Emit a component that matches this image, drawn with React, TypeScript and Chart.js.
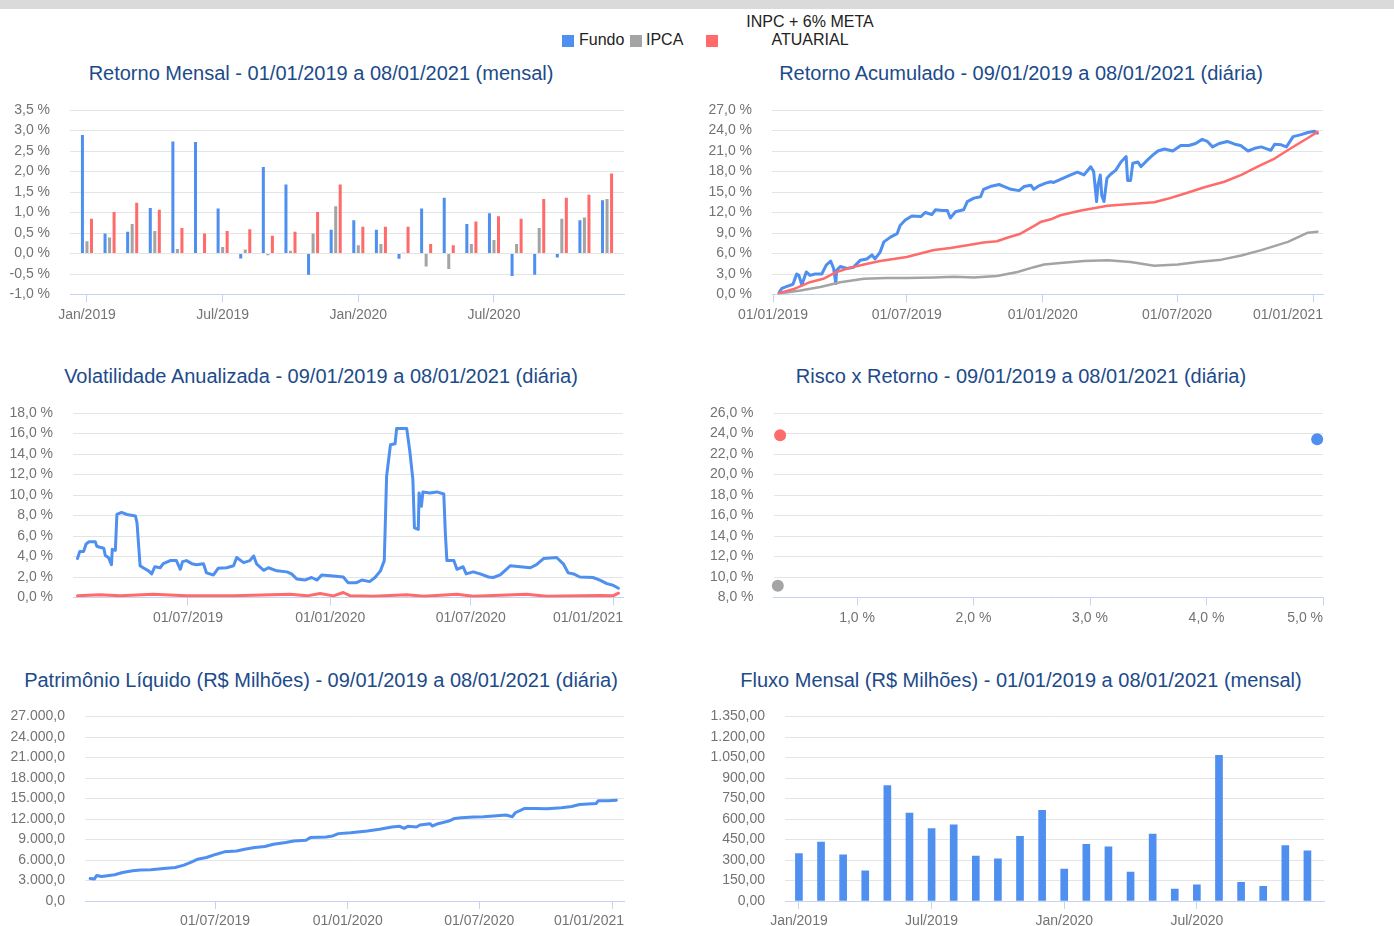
import React, { useEffect, useRef } from 'react';
import { Chart, registerables } from 'chart.js';

Chart.register(...registerables);

const FONT = "'Liberation Sans', Arial, Helvetica, sans-serif";
Chart.defaults.font.family = FONT;

const COR_FUNDO = '#4e8ff0';
const COR_IPCA = '#a4a4a4';
const COR_META = '#ff6b6b';
const COR_GRADE = '#e4e4e4';
const COR_EIXO = '#c4d4f2';
const COR_ROTULO = '#737373';
const COR_TITULO = '#1c4b8a';
const TRANSP = 'rgba(0,0,0,0)';

// ---------- tick labels ----------
const meses = [
  'Jan/2019', 'Fev/2019', 'Mar/2019', 'Abr/2019', 'Mai/2019', 'Jun/2019',
  'Jul/2019', 'Ago/2019', 'Set/2019', 'Out/2019', 'Nov/2019', 'Dez/2019',
  'Jan/2020', 'Fev/2020', 'Mar/2020', 'Abr/2020', 'Mai/2020', 'Jun/2020',
  'Jul/2020', 'Ago/2020', 'Set/2020', 'Out/2020', 'Nov/2020', 'Dez/2020',
];
const mesesRotulados = [0, 6, 12, 18];
const datasRotulos = ['01/01/2019', '01/07/2019', '01/01/2020', '01/07/2020', '01/01/2021'];
const diasRotulos = [0, 181, 365, 547, 731]; // dias desde 01/01/2019
const riscoRotulos = [1, 2, 3, 4, 5];

// ---------- Retorno Mensal (%) ----------
const retornoMensalFundo = [2.89, 0.49, 0.53, 1.11, 2.73, 2.72, 1.10, -0.12, 2.11, 1.68, -0.52, 0.58,
  0.81, 0.58, -0.13, 1.10, 1.36, 0.72, 0.98, -0.55, -0.52, -0.10, 0.81, 1.30];
const retornoMensalIPCA = [0.30, 0.39, 0.72, 0.55, 0.11, 0.01, 0.16, 0.10, -0.04, 0.07, 0.49, 1.15,
  0.20, 0.23, 0.02, -0.32, -0.38, 0.23, 0.33, 0.23, 0.62, 0.85, 0.88, 1.33];
const retornoMensalMeta = [0.85, 1.01, 1.24, 1.07, 0.62, 0.49, 0.55, 0.59, 0.43, 0.53, 1.01, 1.68,
  0.65, 0.65, 0.65, 0.23, 0.20, 0.78, 0.91, 0.85, 1.33, 1.36, 1.43, 1.95];

// ---------- Retorno Acumulado (%) : [dia, valor] ----------
const acumFundo: [number, number][] = [
  [8, 0.25], [12, 0.9], [19, 1.2], [27, 1.5], [32, 3.0], [35, 2.8], [39, 1.4], [45, 3.3], [50, 2.8],
  [57, 3.0], [66, 3.0], [72, 4.3], [78, 4.9], [82, 3.8], [85, 1.6], [86, 3.5], [91, 4.1], [100, 3.8],
  [109, 4.0], [118, 5.0], [127, 5.2], [134, 5.8], [138, 5.2], [145, 6.2], [150, 7.7], [159, 8.4],
  [168, 8.9], [172, 10.1], [179, 10.9], [188, 11.5], [200, 11.4], [206, 12.0], [215, 11.7], [220, 12.4],
  [229, 12.3], [236, 12.3], [240, 11.2], [247, 12.1], [258, 12.4], [263, 13.6], [272, 14.1], [281, 14.3],
  [285, 15.4], [294, 15.8], [306, 16.1], [313, 15.8], [322, 15.4], [333, 15.2], [340, 15.8], [349, 16.0],
  [353, 15.4], [360, 15.9], [369, 16.3], [376, 16.5], [380, 16.4], [403, 17.5], [412, 17.9], [421, 17.5],
  [430, 18.7], [434, 18.0], [438, 13.6], [440, 16.1], [443, 17.5], [445, 14.5], [448, 13.6], [452, 17.0],
  [457, 17.6], [464, 18.2], [471, 19.4], [478, 20.2], [480, 16.7], [484, 16.7], [487, 19.2], [494, 19.4],
  [498, 18.7], [507, 19.7], [514, 20.4], [521, 21.0], [530, 21.3], [541, 21.0], [552, 21.8], [563, 21.8],
  [572, 22.1], [581, 22.7], [588, 22.4], [595, 21.6], [604, 22.1], [615, 22.4], [625, 22.0], [633, 21.8],
  [643, 21.0], [652, 21.4], [661, 21.6], [674, 21.1], [679, 22.0], [688, 21.9], [695, 21.6], [704, 23.1],
  [715, 23.4], [724, 23.7], [733, 23.9], [737, 23.6],
];
const acumIPCA: [number, number][] = [
  [8, 0.15], [37, 0.6], [64, 1.1], [91, 1.8], [123, 2.3], [154, 2.4], [181, 2.4], [218, 2.5], [245, 2.6],
  [272, 2.5], [303, 2.7], [331, 3.3], [353, 4.0], [367, 4.4], [389, 4.6], [421, 4.9], [453, 5.0],
  [484, 4.75], [516, 4.2], [548, 4.4], [575, 4.75], [607, 5.1], [634, 5.7], [661, 6.5], [697, 7.7],
  [724, 9.05], [737, 9.2],
];
const acumMeta: [number, number][] = [
  [8, 0.2], [28, 0.8], [50, 1.8], [68, 2.3], [86, 3.3], [104, 3.9], [123, 4.4], [145, 4.9], [181, 5.5],
  [218, 6.5], [240, 6.8], [263, 7.2], [285, 7.6], [303, 7.8], [317, 8.3], [335, 8.9], [353, 10.0],
  [362, 10.6], [376, 11.0], [389, 11.6], [417, 12.3], [453, 13.0], [516, 13.5], [534, 14.0], [561, 14.9],
  [584, 15.7], [611, 16.5], [634, 17.5], [656, 18.7], [679, 19.9], [701, 21.4], [724, 22.9], [737, 23.8],
];

// ---------- Volatilidade Anualizada (%) ----------
const volFundo: [number, number][] = [
  [38, 3.8], [41, 4.5], [46, 4.5], [49, 5.2], [53, 5.45], [61, 5.45], [63, 5.0], [67, 4.9], [72, 4.8],
  [74, 4.1], [78, 3.9], [82, 3.2], [83, 4.7], [87, 4.6], [89, 8.1], [95, 8.3], [102, 8.1], [113, 7.95],
  [115, 7.3], [119, 3.1], [123, 2.9], [130, 2.6], [134, 2.3], [138, 3.0], [145, 2.9], [149, 3.3],
  [158, 3.6], [166, 3.6], [171, 2.75], [174, 3.5], [179, 3.6], [186, 3.3], [192, 3.2], [201, 3.3],
  [205, 2.4], [214, 2.2], [220, 2.85], [231, 2.9], [240, 3.1], [244, 3.9], [253, 3.4], [261, 3.6],
  [266, 4.05], [270, 3.25], [279, 2.65], [285, 2.9], [296, 2.6], [309, 2.5], [315, 2.3], [322, 1.8],
  [332, 1.7], [341, 1.95], [348, 1.7], [354, 2.2], [369, 2.1], [382, 2.0], [388, 1.45], [399, 1.45],
  [406, 1.7], [416, 1.55], [423, 1.95], [430, 2.6], [435, 3.6], [438, 11.8], [443, 14.9], [449, 15.0],
  [451, 16.5], [464, 16.5], [468, 14.3], [472, 11.5], [474, 6.8], [479, 6.65], [480, 10.2], [483, 8.9],
  [485, 10.3], [494, 10.2], [503, 10.3], [512, 10.1], [514, 6.3], [516, 3.6], [525, 3.6], [529, 2.75],
  [537, 3.0], [541, 2.3], [550, 2.5], [559, 2.3], [570, 2.0], [576, 1.95], [585, 2.2], [593, 2.75],
  [598, 3.1], [611, 3.0], [624, 2.9], [632, 3.2], [641, 3.8], [658, 3.9], [667, 3.25], [673, 2.4],
  [680, 2.3], [688, 2.0], [705, 1.95], [714, 1.7], [723, 1.35], [731, 1.2], [738, 0.9],
];
const volMeta: [number, number][] = [
  [38, 0.16], [67, 0.26], [93, 0.16], [136, 0.32], [179, 0.16], [240, 0.16], [313, 0.32], [335, 0.16],
  [352, 0.39], [369, 0.16], [382, 0.49], [391, 0.16], [421, 0.13], [464, 0.26], [486, 0.13], [529, 0.32],
  [550, 0.13], [619, 0.32], [645, 0.13], [714, 0.19], [731, 0.16], [738, 0.42],
];

// ---------- Risco x Retorno (%) ----------
const riscoFundo = [4.95, 23.44];
const riscoIPCA = [0.32, 9.14];
const riscoMeta = [0.34, 23.83];

// ---------- Patrimônio Líquido (R$ milhões) ----------
const patrimonio: [number, number][] = [
  [8, 3300], [14, 3205], [17, 3740], [24, 3590], [42, 3840], [53, 4180], [67, 4420], [78, 4520],
  [92, 4565], [110, 4760], [126, 4905], [138, 5245], [149, 5730], [157, 6120], [169, 6360], [183, 6850],
  [194, 7190], [211, 7330], [222, 7575], [236, 7820], [250, 7965], [262, 8305], [279, 8550], [290, 8790],
  [307, 8885], [313, 9275], [335, 9370], [344, 9520], [352, 9860], [369, 10000], [392, 10245],
  [409, 10490], [426, 10830], [437, 10925], [443, 10635], [448, 10925], [460, 10830], [465, 11120],
  [479, 11315], [482, 10975], [490, 11315], [505, 11700], [513, 12090], [522, 12190], [539, 12285],
  [553, 12335], [567, 12430], [584, 12575], [593, 12335], [597, 12915], [610, 13550], [624, 13550],
  [641, 13500], [661, 13645], [675, 13840], [686, 14130], [709, 14275], [712, 14665], [726, 14665],
  [737, 14760],
];

// ---------- Fluxo Mensal (R$ milhões) ----------
const fluxoMensal = [347, 432, 338, 221, 845, 643, 529, 558, 328, 308, 473, 663,
  233, 415, 396, 211, 490, 87, 119, 1066, 136, 107, 405, 367];

// ---------- helpers ----------
function fmtNum(v: number, dec: number): string {
  const r = Math.round(v * Math.pow(10, dec)) / Math.pow(10, dec);
  const s = Math.abs(r).toFixed(dec);
  const [i, f] = s.split('.');
  const ii = i.replace(/\B(?=(\d{3})+(?!\d))/g, '.');
  return (r < 0 ? '-' : '') + ii + (f ? ',' + f : '');
}
const pct = (v: number) => fmtNum(v, 1) + ' %';

type Area = { l: number; t: number; r: number; b: number };
type Box = { left: number; top: number; width: number; height: number; area: Area };
type Tk = { value: number; label: string; mark: boolean };

const tickFont = { size: 14, family: FONT };

function baseOptions(box: Box) {
  return {
    responsive: false,
    animation: false as const,
    events: [] as any[],
    layout: {
      padding: {
        left: 0,
        top: box.area.t - box.top,
        right: box.left + box.width - box.area.r,
        bottom: 0,
      },
    },
    plugins: { legend: { display: false }, tooltip: { enabled: false }, title: { display: false } },
  };
}

function yAxis(box: Box, min: number, max: number, step: number, fmt: (v: number) => string) {
  return {
    type: 'linear',
    min, max,
    ticks: { stepSize: step, color: COR_ROTULO, font: tickFont, padding: 20, callback: (v: any) => fmt(Number(v)) },
    grid: {
      color: (c: any) => (c.tick && Math.abs(c.tick.value - min) < 1e-9 ? TRANSP : COR_GRADE),
      drawTicks: false,
      lineWidth: 1,
    },
    border: { display: false },
    afterFit: (s: any) => { s.width = box.area.l - box.left; s.paddingTop = 0; s.paddingBottom = 0; },
  };
}

function xAxis(box: Box, min: number, max: number, tks: Tk[], align: string) {
  return {
    type: 'linear',
    min, max,
    offset: false,
    bounds: 'data',
    afterBuildTicks: (s: any) => { s.ticks = tks.map((t) => ({ value: t.value })); },
    ticks: {
      autoSkip: false, maxRotation: 0, minRotation: 0, align,
      padding: 4, color: COR_ROTULO, font: tickFont,
      callback: (_v: any, i: number) => (tks[i] ? tks[i].label : ''),
    },
    grid: {
      offset: false,
      drawOnChartArea: false,
      drawTicks: true,
      tickLength: 8,
      lineWidth: 1,
      color: (c: any) => (tks[c.index] && tks[c.index].mark ? COR_EIXO : TRANSP),
    },
    border: { display: true, color: COR_EIXO, width: 1 },
    afterFit: (s: any) => {
      s.height = box.top + box.height - box.area.b;
      s.paddingLeft = 0; s.paddingRight = 0;
    },
  };
}

function ticksDatas(min: number, max: number, first: number): Tk[] {
  const t: Tk[] = [{ value: min, label: '', mark: false }];
  for (let i = first; i < diasRotulos.length; i++) {
    const last = i === diasRotulos.length - 1;
    t.push({ value: diasRotulos[i], label: last ? '' : datasRotulos[i], mark: true });
  }
  t.push({ value: max, label: datasRotulos[datasRotulos.length - 1], mark: false });
  return t;
}

const ticksMeses = (): Tk[] => mesesRotulados.map((i) => ({ value: i, label: meses[i], mark: true }));
const pts = (arr: [number, number][]) => arr.map(([x, y]) => ({ x, y }));
const lineDs = (label: string, data: [number, number][], color: string, width: number, order: number) => ({
  label, data: pts(data), borderColor: color, backgroundColor: color, borderWidth: width,
  pointRadius: 0, tension: 0, fill: false, order, borderJoinStyle: 'round', borderCapStyle: 'round',
});

// ---------- layout boxes ----------
const B1: Box = { left: 0, top: 90, width: 642, height: 240, area: { l: 70, t: 110, r: 624, b: 294.5 } };
const B2: Box = { left: 700, top: 90, width: 642, height: 240, area: { l: 772, t: 110, r: 1323, b: 294.5 } };
const B3: Box = { left: 0, top: 393, width: 642, height: 240, area: { l: 73, t: 413, r: 623, b: 597.5 } };
const B4: Box = { left: 700, top: 393, width: 642, height: 240, area: { l: 773.5, t: 413, r: 1323, b: 597.5 } };
const B5: Box = { left: 0, top: 697, width: 642, height: 229, area: { l: 85, t: 716.5, r: 624, b: 901 } };
const B6: Box = { left: 700, top: 697, width: 642, height: 229, area: { l: 785, t: 716.5, r: 1324, b: 901 } };

function cfgRetornoMensal() {
  const box = B1;
  return {
    type: 'bar',
    data: {
      datasets: [
        { label: 'Fundo', data: retornoMensalFundo.map((y, x) => ({ x, y })), backgroundColor: COR_FUNDO },
        { label: 'IPCA', data: retornoMensalIPCA.map((y, x) => ({ x, y })), backgroundColor: COR_IPCA },
        { label: 'INPC + 6% META ATUARIAL', data: retornoMensalMeta.map((y, x) => ({ x, y })), backgroundColor: COR_META },
      ],
    },
    options: {
      ...baseOptions(box),
      datasets: { bar: { categoryPercentage: 0.6, barPercentage: 0.667, borderWidth: 0 } },
      scales: {
        x: xAxis(box, -0.75, 23.75, ticksMeses(), 'center'),
        y: yAxis(box, -1, 3.5, 0.5, pct),
      },
    },
  };
}

function cfgAcumulado() {
  const box = B2;
  return {
    type: 'line',
    data: {
      datasets: [
        lineDs('Fundo', acumFundo, COR_FUNDO, 3, 2),
        lineDs('IPCA', acumIPCA, COR_IPCA, 2.5, 1),
        lineDs('INPC + 6% META ATUARIAL', acumMeta, COR_META, 2.5, 0),
      ],
    },
    options: {
      ...baseOptions(box),
      scales: {
        x: xAxis(box, -1.4, 744.5, ticksDatas(-1.4, 744.5, 0), 'inner'),
        y: yAxis(box, 0, 27, 3, pct),
      },
    },
  };
}

function cfgVolatilidade() {
  const box = B3;
  return {
    type: 'line',
    data: {
      datasets: [
        lineDs('Fundo', volFundo, COR_FUNDO, 3, 1),
        lineDs('INPC + 6% META ATUARIAL', volMeta, COR_META, 3, 0),
      ],
    },
    options: {
      ...baseOptions(box),
      scales: {
        x: xAxis(box, 32.2, 743.9, ticksDatas(32.2, 743.9, 1), 'inner'),
        y: yAxis(box, 0, 18, 2, pct),
      },
    },
  };
}

function cfgRisco() {
  const box = B4;
  const tks: Tk[] = [{ value: 0.283, label: '', mark: false },
    ...riscoRotulos.map((v) => ({ value: v, label: pct(v), mark: true }))];
  const ds = (label: string, p: number[], color: string) => ({
    label, data: [{ x: p[0], y: p[1] }], backgroundColor: color, borderColor: color,
    pointRadius: 6, borderWidth: 0,
  });
  return {
    type: 'scatter',
    data: {
      datasets: [
        ds('Fundo', riscoFundo, COR_FUNDO),
        ds('IPCA', riscoIPCA, COR_IPCA),
        ds('INPC + 6% META ATUARIAL', riscoMeta, COR_META),
      ],
    },
    options: {
      ...baseOptions(box),
      clip: false,
      scales: {
        x: xAxis(box, 0.283, 5, tks, 'inner'),
        y: yAxis(box, 8, 26, 2, pct),
      },
    },
  };
}

function cfgPatrimonio() {
  const box = B5;
  return {
    type: 'line',
    data: { datasets: [lineDs('Fundo', patrimonio, COR_FUNDO, 3, 0)] },
    options: {
      ...baseOptions(box),
      scales: {
        x: xAxis(box, 0.9, 747.6, ticksDatas(0.9, 747.6, 1), 'inner'),
        y: yAxis(box, 0, 27000, 3000, (v) => fmtNum(v, 1)),
      },
    },
  };
}

function cfgFluxo() {
  const box = B6;
  return {
    type: 'bar',
    data: {
      datasets: [{ label: 'Fundo', data: fluxoMensal.map((y, x) => ({ x, y })), backgroundColor: COR_FUNDO, borderWidth: 0, barThickness: 7 }],
    },
    options: {
      ...baseOptions(box),
      scales: {
        x: xAxis(box, -0.63, 23.75, ticksMeses(), 'center'),
        y: yAxis(box, 0, 1350, 150, (v) => fmtNum(v, 2)),
      },
    },
  };
}

function ChartCanvas({ box, make }: { box: Box; make: () => any }) {
  const ref = useRef<HTMLCanvasElement>(null);
  useEffect(() => {
    if (!ref.current) return;
    const c = new Chart(ref.current, make());
    return () => c.destroy();
  }, []);
  return (
    <canvas
      ref={ref}
      width={box.width}
      height={box.height}
      style={{ position: 'absolute', left: box.left, top: box.top, width: box.width, height: box.height }}
    />
  );
}

function Titulo({ left, top, text }: { left: number; top: number; text: string }) {
  return (
    <div style={{
      position: 'absolute', left, top, width: 642, height: 24, lineHeight: '24px', fontSize: 20,
      color: COR_TITULO, textAlign: 'center', whiteSpace: 'nowrap', fontFamily: FONT,
    }}>{text}</div>
  );
}

export default function App() {
  const sq = (left: number, color: string) => (
    <div style={{ position: 'absolute', left, top: 35, width: 12, height: 12, background: color }} />
  );
  const leg = (left: number, text: string) => (
    <div style={{ position: 'absolute', left, top: 31, fontSize: 16, lineHeight: '18px', color: '#222', whiteSpace: 'nowrap' }}>{text}</div>
  );
  return (
    <div style={{ position: 'fixed', left: 0, top: 0, width: 1394, height: 926, background: '#fff', overflow: 'hidden', fontFamily: FONT }}>
      <div style={{ position: 'absolute', left: 0, top: 0, width: 1394, height: 9, background: '#dadada' }} />
      {sq(562, COR_FUNDO)}
      {leg(579, 'Fundo')}
      {sq(630, COR_IPCA)}
      {leg(646, 'IPCA')}
      {sq(706, COR_META)}
      <div style={{ position: 'absolute', left: 730, top: 13, width: 160, fontSize: 16, lineHeight: '18px', color: '#222', textAlign: 'center' }}>
        <span style={{ display: 'block' }}>INPC + 6% META</span>
        <span style={{ display: 'block' }}>ATUARIAL</span>
      </div>

      <Titulo left={0} top={61} text="Retorno Mensal - 01/01/2019 a 08/01/2021 (mensal)" />
      <Titulo left={700} top={61} text="Retorno Acumulado - 09/01/2019 a 08/01/2021 (diária)" />
      <Titulo left={0} top={364} text="Volatilidade Anualizada - 09/01/2019 a 08/01/2021 (diária)" />
      <Titulo left={700} top={364} text="Risco x Retorno - 09/01/2019 a 08/01/2021 (diária)" />
      <Titulo left={0} top={668} text="Patrimônio Líquido (R$ Milhões) - 09/01/2019 a 08/01/2021 (diária)" />
      <Titulo left={700} top={668} text="Fluxo Mensal (R$ Milhões) - 01/01/2019 a 08/01/2021 (mensal)" />

      <ChartCanvas box={B1} make={cfgRetornoMensal} />
      <ChartCanvas box={B2} make={cfgAcumulado} />
      <ChartCanvas box={B3} make={cfgVolatilidade} />
      <ChartCanvas box={B4} make={cfgRisco} />
      <ChartCanvas box={B5} make={cfgPatrimonio} />
      <ChartCanvas box={B6} make={cfgFluxo} />
    </div>
  );
}
